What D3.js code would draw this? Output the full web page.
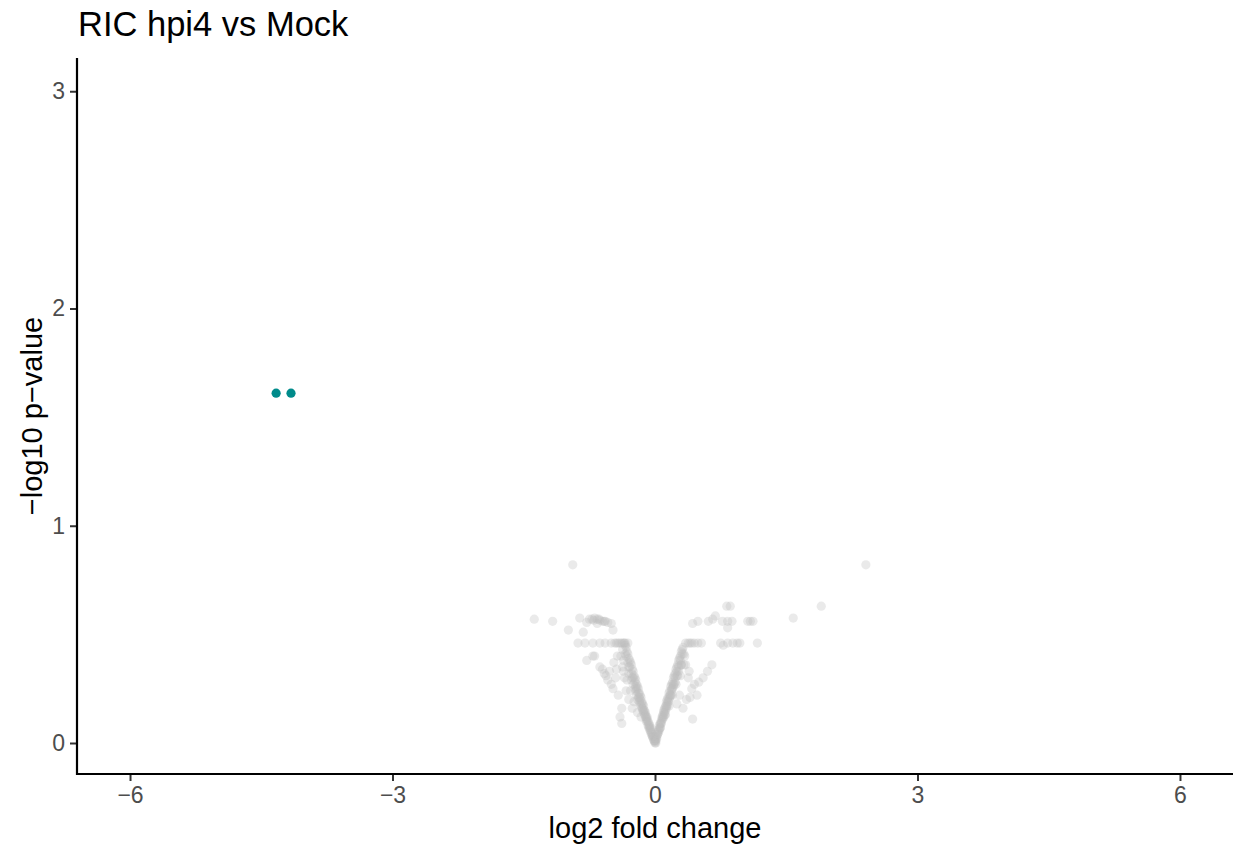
<!DOCTYPE html>
<html>
<head>
<meta charset="utf-8">
<script src="https://cdn.jsdelivr.net/npm/d3@7"></script>
<style>
  html, body { margin: 0; padding: 0; background: #fff; }
  svg { display: block; font-family: "Liberation Sans", Arial, sans-serif; }
</style>
</head>
<body>
<svg id="chart" width="1238" height="845"></svg>
<script>
// ---- data ----
const chartTitle = "RIC hpi4 vs Mock";
const xLabel = "log2 fold change";
const yLabel = "\u2212log10 p\u2212value";
const xTicks = [-6, -3, 0, 3, 6];
const yTicks = [0, 1, 2, 3];

// significant (down-regulated) proteins
const sigLfc = [-4.33, -4.16];
const sigP   = [1.61, 1.61];

// non-significant proteins
const nsLfc = [
  // left arm
  -0.01,-0.02,-0.02,-0.03,-0.03,-0.04,-0.04,-0.05,-0.05,-0.06,-0.06,-0.07,-0.07,-0.08,-0.08,-0.09,-0.09,-0.10,-0.10,
  -0.11,-0.11,-0.12,-0.12,-0.13,-0.13,-0.14,-0.14,-0.15,-0.15,-0.16,-0.16,-0.17,-0.17,-0.18,-0.18,-0.19,-0.19,-0.20,-0.20,
  -0.21,-0.21,-0.22,-0.22,-0.23,-0.23,-0.24,-0.25,-0.25,-0.26,-0.27,-0.27,-0.28,-0.29,-0.30,-0.30,-0.31,-0.32,-0.33,-0.34,-0.35,
  // left arm, second pass
  -0.03,-0.05,-0.07,-0.09,-0.11,-0.13,-0.15,-0.17,-0.19,-0.21,-0.23,-0.25,-0.27,-0.29,-0.31,-0.33,
  -0.06,-0.10,-0.14,-0.18,-0.22,-0.26,-0.30,-0.34,-0.37,-0.39,-0.36,-0.32,-0.28,-0.24,-0.20,-0.16,
  // left sparse
  -0.26,-0.30,-0.33,-0.38,-0.40,-0.38,-0.42,-0.35,-0.37,-0.48,-0.54,-0.50,-0.58,-0.63,-0.60,-0.69,-0.78,-0.71,-0.43,-0.36,-0.31,
  -0.45,-0.52,-0.47,-0.44,-0.56,
  // left band ~0.46
  -0.88,-0.80,-0.71,-0.63,-0.57,-0.50,-0.46,-0.42,-0.38,-0.34,-0.40,-0.44,-0.36,
  // left band ~0.56
  -0.86,-0.75,-0.72,-0.69,-0.66,-0.63,-0.60,-0.57,-0.54,-0.50,-0.48,-0.82,-0.66,-0.78,-0.70,-0.64,-0.58,
  // left outliers
  -0.94,-1.38,-1.17,-0.99,
  // apex
  0.00,0.00,0.00,-0.01,0.01,0.00,0.01,-0.01,
  // right arm
  0.01,0.01,0.02,0.02,0.03,0.03,0.04,0.04,0.05,0.05,0.06,0.06,0.07,0.07,0.08,0.08,0.09,0.09,0.10,0.10,
  0.11,0.11,0.12,0.12,0.13,0.13,0.14,0.14,0.15,0.15,0.16,0.16,0.17,0.17,0.18,0.18,0.19,0.19,0.20,0.20,
  0.21,0.21,0.22,0.23,0.23,0.24,0.25,0.25,0.26,0.27,0.27,0.28,0.29,0.30,0.30,0.31,0.32,0.33,
  // right arm, second pass
  0.03,0.05,0.07,0.09,0.11,0.13,0.15,0.17,0.19,0.21,0.23,0.25,0.27,0.29,0.31,
  0.06,0.10,0.14,0.18,0.22,0.26,0.30,0.34,0.33,0.29,0.24,0.20,0.16,0.12,
  // right sparse
  0.32,0.40,0.42,0.43,0.48,0.55,0.50,0.60,0.65,0.38,0.35,0.28,0.25,0.36,0.45,0.39,
  // right band ~0.46
  0.35,0.40,0.45,0.49,0.53,0.75,0.78,0.83,0.89,0.94,0.97,1.17,0.38,0.42,
  // right band ~0.56
  0.43,0.49,0.61,0.66,0.77,0.83,0.88,1.06,1.09,1.12,0.69,0.83,0.82,0.86,
  // right outliers
  1.58,1.90,2.41
];
const nsP = [
  0.01,0.02,0.03,0.03,0.04,0.05,0.04,0.06,0.07,0.07,0.08,0.09,0.07,0.10,0.08,0.11,0.12,0.12,0.10,
  0.14,0.12,0.15,0.13,0.17,0.14,0.18,0.15,0.19,0.16,0.21,0.17,0.22,0.18,0.23,0.19,0.25,0.21,0.26,0.20,
  0.27,0.22,0.29,0.24,0.30,0.25,0.31,0.33,0.27,0.34,0.36,0.29,0.37,0.38,0.39,0.32,0.41,0.42,0.44,0.45,0.46,
  0.03,0.05,0.08,0.10,0.13,0.15,0.18,0.20,0.23,0.25,0.28,0.30,0.32,0.35,0.37,0.40,
  0.06,0.11,0.16,0.21,0.26,0.30,0.35,0.41,0.43,0.40,0.33,0.29,0.24,0.19,0.14,0.12,
  0.16,0.20,0.24,0.16,0.12,0.09,0.22,0.30,0.35,0.25,0.29,0.27,0.32,0.35,0.34,0.40,0.38,0.40,0.40,0.38,0.46,
  0.30,0.33,0.37,0.34,0.31,
  0.46,0.46,0.46,0.46,0.46,0.46,0.46,0.46,0.46,0.46,0.46,0.46,0.46,
  0.575,0.57,0.57,0.575,0.57,0.565,0.56,0.56,0.555,0.55,0.52,0.51,0.55,0.555,0.565,0.57,0.56,
  0.82,0.57,0.56,0.52,
  0.00,0.01,0.02,0.01,0.00,0.005,0.03,0.03,
  0.01,0.02,0.03,0.02,0.04,0.05,0.06,0.05,0.07,0.08,0.09,0.07,0.10,0.09,0.11,0.12,0.13,0.11,0.14,0.15,
  0.16,0.13,0.17,0.15,0.19,0.16,0.20,0.18,0.21,0.19,0.23,0.20,0.24,0.21,0.26,0.22,0.27,0.24,0.28,0.25,
  0.30,0.26,0.31,0.32,0.28,0.34,0.35,0.31,0.36,0.38,0.33,0.39,0.40,0.42,0.36,0.43,0.44,0.41,
  0.04,0.06,0.09,0.12,0.14,0.17,0.19,0.22,0.25,0.27,0.30,0.33,0.35,0.38,0.41,
  0.07,0.12,0.17,0.22,0.27,0.31,0.36,0.40,0.36,0.31,0.27,0.22,0.17,0.13,
  0.16,0.21,0.25,0.11,0.22,0.30,0.28,0.33,0.36,0.30,0.36,0.22,0.18,0.20,0.27,0.33,
  0.46,0.46,0.46,0.46,0.46,0.46,0.45,0.46,0.46,0.46,0.46,0.46,0.46,0.46,
  0.55,0.56,0.56,0.57,0.56,0.56,0.56,0.56,0.56,0.56,0.585,0.53,0.63,0.63,
  0.575,0.63,0.82
];

// ---- layout ----
const svg = d3.select("#chart");
const plotLeft = 77, plotRight = 1233, plotTop = 58, plotBottom = 774;

const x = d3.scaleLinear().domain([-6.606, 6.606]).range([plotLeft, plotRight]);
const y = d3.scaleLinear().domain([-0.1427, 3.153]).range([plotBottom, plotTop]);

const nsData = nsLfc.map((v, i) => ({ lfc: v, p: nsP[i] }));
const sigData = sigLfc.map((v, i) => ({ lfc: v, p: sigP[i] }));

// points
svg.append("g")
  .selectAll("circle")
  .data(nsData)
  .join("circle")
  .attr("cx", d => x(d.lfc))
  .attr("cy", d => y(d.p))
  .attr("r", 4.6)
  .attr("fill", "#bebebe")
  .attr("fill-opacity", 0.32);

svg.append("g")
  .selectAll("circle")
  .data(sigData)
  .join("circle")
  .attr("cx", d => x(d.lfc))
  .attr("cy", d => y(d.p))
  .attr("r", 4.6)
  .attr("fill", "#008B8B");

// axes
const xAxis = d3.axisBottom(x).tickValues(xTicks).tickSize(7).tickPadding(6)
  .tickFormat(d3.format("d"));
const yAxis = d3.axisLeft(y).tickValues(yTicks).tickSize(7).tickPadding(5)
  .tickFormat(d3.format("d"));

const gx = svg.append("g").attr("transform", `translate(0,${plotBottom})`).call(xAxis);
const gy = svg.append("g").attr("transform", `translate(${plotLeft},0)`).call(yAxis);

[gx, gy].forEach(g => {
  g.select(".domain").remove();
  g.selectAll(".tick line").attr("stroke", "#333333").attr("stroke-width", 2);
  g.selectAll(".tick text").attr("fill", "#4d4d4d").style("font-size", "23px")
    .style("font-family", "'Liberation Sans', Arial, sans-serif");
});

// axis lines
svg.append("line")
  .attr("x1", plotLeft).attr("x2", plotRight)
  .attr("y1", plotBottom).attr("y2", plotBottom)
  .attr("stroke", "#000").attr("stroke-width", 2.2);
svg.append("line")
  .attr("x1", plotLeft).attr("x2", plotLeft)
  .attr("y1", plotTop).attr("y2", plotBottom + 1.1)
  .attr("stroke", "#000").attr("stroke-width", 2.2);

// titles
svg.append("text")
  .attr("x", 78).attr("y", 36)
  .attr("fill", "#000")
  .style("font-size", "34.5px")
  .text(chartTitle);

svg.append("text")
  .attr("x", (plotLeft + plotRight) / 2).attr("y", 838)
  .attr("text-anchor", "middle")
  .attr("fill", "#000")
  .style("font-size", "29px")
  .text(xLabel);

svg.append("text")
  .attr("transform", `translate(42,${(plotTop + plotBottom) / 2}) rotate(-90)`)
  .attr("text-anchor", "middle")
  .attr("fill", "#000")
  .style("font-size", "29px")
  .text(yLabel);
</script>
</body>
</html>
